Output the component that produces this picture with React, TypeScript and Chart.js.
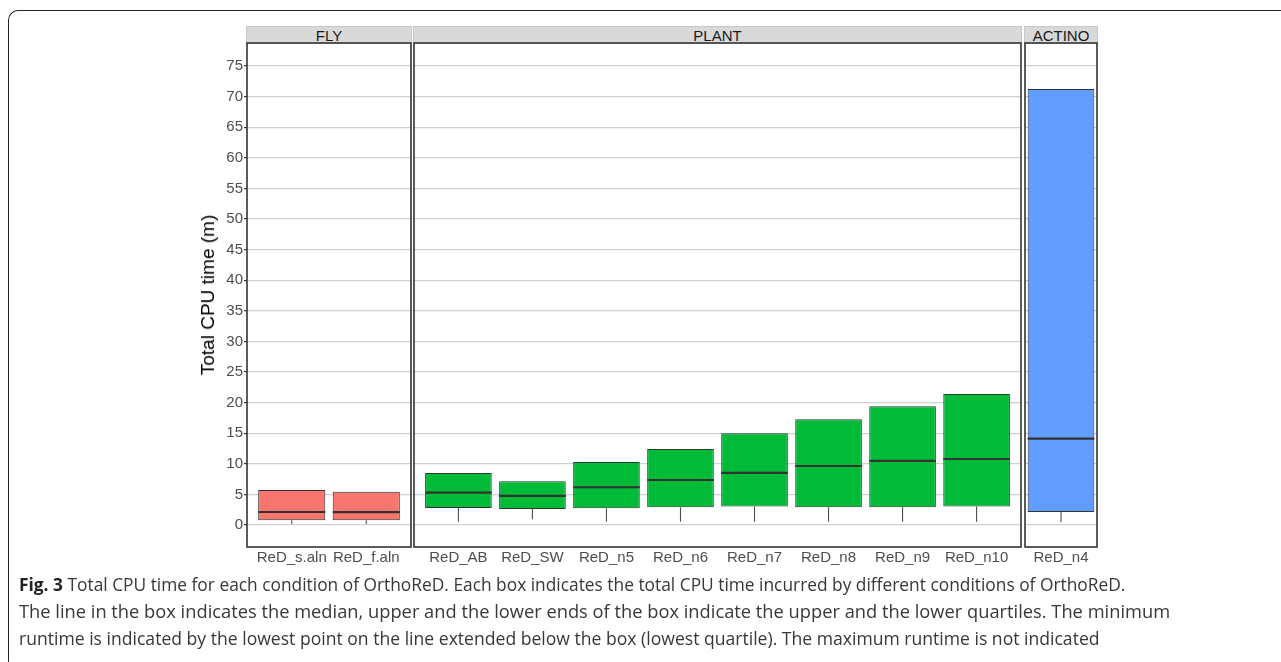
import React, { useEffect, useLayoutEffect, useRef } from 'react';
import { Chart, registerables } from 'chart.js';

Chart.register(...registerables);

// ---------------- data ----------------
const Y_TICKS = [0, 5, 10, 15, 20, 25, 30, 35, 40, 45, 50, 55, 60, 65, 70, 75];
const Y_MIN = -3.6;
const Y_MAX = 78.76;

const FLY_LABELS = ['ReD_s.aln', 'ReD_f.aln'];
const FLY_MIN = [0.16, 0.16];
const FLY_Q1 = [0.77, 0.77];
const FLY_MEDIAN = [2.12, 2.1];
const FLY_Q3 = [5.72, 5.44];

const PLANT_LABELS = ['ReD_AB', 'ReD_SW', 'ReD_n5', 'ReD_n6', 'ReD_n7', 'ReD_n8', 'ReD_n9', 'ReD_n10'];
const PLANT_MIN = [0.54, 0.93, 0.54, 0.54, 0.54, 0.54, 0.54, 0.54];
const PLANT_Q1 = [2.78, 2.6, 2.72, 2.89, 3.0, 2.89, 2.89, 3.0];
const PLANT_MEDIAN = [5.28, 4.74, 6.16, 7.35, 8.5, 9.64, 10.46, 10.78];
const PLANT_Q3 = [8.5, 7.14, 10.3, 12.4, 14.98, 17.27, 19.4, 21.4];

const ACTINO_LABELS = ['ReD_n4'];
const ACTINO_MIN = [0.44];
const ACTINO_Q1 = [2.12];
const ACTINO_MEDIAN = [14.1];
const ACTINO_Q3 = [71.24];

const FACETS = ['FLY', 'PLANT', 'ACTINO'];
const Y_TITLE = 'Total CPU time (m)';
const CAPTION_BOLD = 'Fig. 3';
const CAPTION_LINES = [
  ' Total CPU time for each condition of OrthoReD. Each box indicates the total CPU time incurred by different conditions of OrthoReD.',
  'The line in the box indicates the median, upper and the lower ends of the box indicate the upper and the lower quartiles. The minimum',
  'runtime is indicated by the lowest point on the line extended below the box (lowest quartile). The maximum runtime is not indicated',
];

// ---------------- layout ----------------
const FONT = "'Liberation Sans', Arial, sans-serif";
const CANVAS_TOP = 33;
const PAD_TOP = 10;
const AREA_H = 504;
const XAXIS_H = 25;
const CANVAS_H = PAD_TOP + AREA_H + XAXIS_H;
const CAPTION_LEFT = 19;
const CAPTION_WIDTHS = [1106, 1151, 1081];

type PanelProps = {
  labels: string[];
  mins: number[];
  q1: number[];
  med: number[];
  q3: number[];
  color: string;
  canvasLeft: number;
  yWidth: number;
  padLeft: number;
  areaWidth: number;
  xMin: number;
  xMax: number;
  showY: boolean;
};

function Panel(p: PanelProps) {
  const ref = useRef<HTMLCanvasElement | null>(null);
  const width = p.padLeft + p.yWidth + p.areaWidth + 3;

  useEffect(() => {
    if (!ref.current) return;
    const extras = {
      id: 'boxExtras',
      beforeDatasetsDraw(chart: any) {
        const { ctx } = chart;
        const x = chart.scales.x;
        const y = chart.scales.y;
        ctx.save();
        ctx.strokeStyle = '#4d4d4d';
        ctx.lineWidth = 1.1;
        p.mins.forEach((m, i) => {
          const px = x.getPixelForValue(i);
          ctx.beginPath();
          ctx.moveTo(px, y.getPixelForValue(p.q1[i]));
          ctx.lineTo(px, y.getPixelForValue(m));
          ctx.stroke();
        });
        ctx.restore();
      },
      afterDatasetsDraw(chart: any) {
        const { ctx, chartArea } = chart;
        const x = chart.scales.x;
        const y = chart.scales.y;
        const meta = chart.getDatasetMeta(0);
        ctx.save();
        ctx.strokeStyle = '#333333';
        ctx.lineWidth = 2.2;
        p.med.forEach((m, i) => {
          const el = meta.data[i];
          const half = el.width / 2;
          const px = x.getPixelForValue(i);
          const py = y.getPixelForValue(m);
          ctx.beginPath();
          ctx.moveTo(px - half, py);
          ctx.lineTo(px + half, py);
          ctx.stroke();
        });
        ctx.strokeStyle = '#333333';
        ctx.lineWidth = 1.6;
        ctx.strokeRect(chartArea.left, chartArea.top, chartArea.right - chartArea.left, chartArea.bottom - chartArea.top);
        ctx.restore();
      },
    };

    const single = p.labels.length === 1;
    const barPct = single ? 0.9 / (p.xMax - p.xMin) : 0.9;

    const chart = new Chart(ref.current, {
      type: 'bar',
      data: {
        datasets: [
          {
            data: p.labels.map((_, i) => ({ x: i, y: [p.q1[i], p.q3[i]] })) as any,
            backgroundColor: p.color,
            borderColor: '#333333',
            borderWidth: 1,
            borderSkipped: false,
            barPercentage: barPct,
            categoryPercentage: 1,
          },
        ],
      },
      options: {
        responsive: false,
        maintainAspectRatio: false,
        animation: false,
        events: [],
        layout: { padding: { top: PAD_TOP, left: p.padLeft, right: 3, bottom: 0 } },
        plugins: { legend: { display: false }, tooltip: { enabled: false } },
        scales: {
          x: {
            type: 'linear',
            min: p.xMin,
            max: p.xMax,
            offset: false,
            grid: { display: false, drawTicks: false },
            border: { display: false },
            afterBuildTicks: (s: any) => {
              s.ticks = p.labels.map((_, i) => ({ value: i }));
            },
            afterFit: (s: any) => {
              s.height = XAXIS_H;
            },
            ticks: {
              callback: (v: any) => p.labels[v as number],
              autoSkip: false,
              maxRotation: 0,
              minRotation: 0,
              padding: 2,
              color: '#4d4d4d',
              font: { family: FONT, size: 15 },
            },
          } as any,
          y: {
            type: 'linear',
            min: Y_MIN,
            max: Y_MAX,
            afterBuildTicks: (s: any) => {
              s.ticks = Y_TICKS.map((v) => ({ value: v }));
            },
            afterFit: (s: any) => {
              s.width = p.yWidth;
            },
            grid: {
              color: '#d0d0d0',
              lineWidth: 1.2,
              tickColor: '#333333',
              tickLength: 3,
              drawTicks: p.showY,
            },
            border: { display: false },
            ticks: {
              display: p.showY,
              padding: 1,
              color: '#4d4d4d',
              font: { family: FONT, size: 15 },
            },
          } as any,
        },
      },
      plugins: [extras],
    });
    return () => chart.destroy();
  }, []);

  return (
    <canvas
      ref={ref}
      width={width}
      height={CANVAS_H}
      style={{ position: 'absolute', left: p.canvasLeft, top: CANVAS_TOP, width, height: CANVAS_H }}
    />
  );
}

function Strip({ text, left, right }: { text: string; left: number; right: number }) {
  return (
    <div
      style={{
        position: 'absolute',
        left,
        top: 26,
        width: right - left,
        height: 17.5,
        boxSizing: 'border-box',
        background: '#d9d9d9',
        border: '1px solid #c8c8c8',
        borderBottom: 'none',
        font: `15px ${FONT}`,
        lineHeight: '17px',
        color: '#1a1a1a',
        textAlign: 'center',
      }}
    >
      {text}
    </div>
  );
}

function CaptionLine({ children, target, top }: { children: React.ReactNode; target: number; top: number }) {
  const ref = useRef<HTMLDivElement | null>(null);
  useLayoutEffect(() => {
    const el = ref.current;
    if (!el) return;
    const w = el.scrollWidth;
    if (w > 0) el.style.transform = `scaleX(${target / w})`;
  }, []);
  return (
    <div
      ref={ref}
      style={{
        position: 'absolute',
        left: CAPTION_LEFT,
        top,
        font: "18px 'Open Sans', sans-serif",
        lineHeight: '27px',
        color: '#383838',
        whiteSpace: 'nowrap',
        transformOrigin: '0 0',
      }}
    >
      {children}
    </div>
  );
}

export default function App() {
  return (
    <div style={{ position: 'fixed', left: 0, top: 0, width: 1281, height: 662, overflow: 'hidden', background: '#fff' }}>
      <div
        style={{
          position: 'absolute',
          left: 8,
          top: 10,
          width: 1300,
          height: 660,
          boxSizing: 'border-box',
          borderTop: '1.5px solid #222',
          borderLeft: '1.5px solid #222',
          borderTopLeftRadius: 10,
          borderBottomLeftRadius: 10,
        }}
      />
      <Strip text={FACETS[0]} left={246} right={412} />
      <Strip text={FACETS[1]} left={413} right={1022} />
      <Strip text={FACETS[2]} left={1024} right={1098} />
      <Panel
        labels={FLY_LABELS}
        mins={FLY_MIN}
        q1={FLY_Q1}
        med={FLY_MEDIAN}
        q3={FLY_Q3}
        color="#F8766D"
        canvasLeft={190}
        yWidth={57}
        padLeft={0}
        areaWidth={164}
        xMin={-0.6}
        xMax={1.6}
        showY={true}
      />
      <Panel
        labels={PLANT_LABELS}
        mins={PLANT_MIN}
        q1={PLANT_Q1}
        med={PLANT_MEDIAN}
        q3={PLANT_Q3}
        color="#00BA38"
        canvasLeft={411}
        yWidth={0}
        padLeft={3}
        areaWidth={607}
        xMin={-0.6}
        xMax={7.6}
        showY={false}
      />
      <Panel
        labels={ACTINO_LABELS}
        mins={ACTINO_MIN}
        q1={ACTINO_Q1}
        med={ACTINO_MEDIAN}
        q3={ACTINO_Q3}
        color="#619CFF"
        canvasLeft={1022}
        yWidth={0}
        padLeft={3}
        areaWidth={72}
        xMin={-0.486}
        xMax={0.486}
        showY={false}
      />
      <div
        style={{
          position: 'absolute',
          left: 208,
          top: 295,
          transform: 'translate(-50%, -50%) rotate(-90deg)',
          font: `19px ${FONT}`,
          whiteSpace: 'nowrap',
          color: '#000',
        }}
      >
        {Y_TITLE}
      </div>
      <CaptionLine target={CAPTION_WIDTHS[0]} top={571}>
        <b style={{ color: '#222' }}>{CAPTION_BOLD}</b>
        {CAPTION_LINES[0]}
      </CaptionLine>
      <CaptionLine target={CAPTION_WIDTHS[1]} top={598}>
        {CAPTION_LINES[1]}
      </CaptionLine>
      <CaptionLine target={CAPTION_WIDTHS[2]} top={625}>
        {CAPTION_LINES[2]}
      </CaptionLine>
    </div>
  );
}
